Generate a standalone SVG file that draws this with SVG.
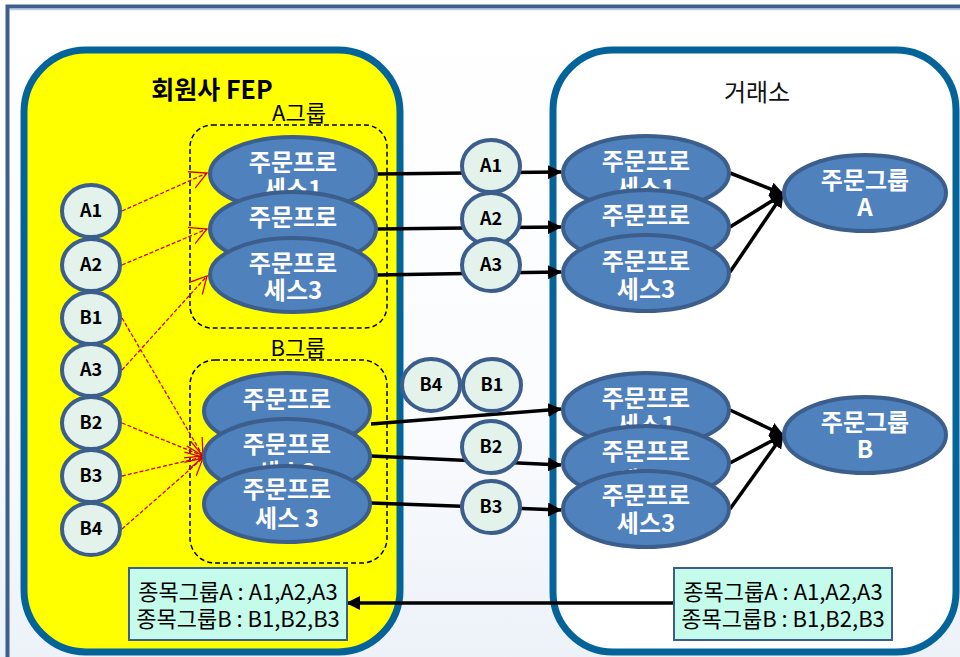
<svg xmlns="http://www.w3.org/2000/svg" width="960" height="657" viewBox="0 0 960 657">
<defs>
<linearGradient id="bg" x1="0" y1="0" x2="0" y2="1">
<stop offset="0" stop-color="#ffffff"/>
<stop offset="0.6" stop-color="#fbfcfe"/>
<stop offset="1" stop-color="#edf2f9"/>
</linearGradient>
<marker id="ah" markerUnits="userSpaceOnUse" viewBox="0 0 14 14" refX="13" refY="7" markerWidth="14" markerHeight="14" orient="auto">
<path d="M0,0 L14,7 L0,14 Z" fill="#000"/>
</marker>
<marker id="rh" markerUnits="userSpaceOnUse" viewBox="0 0 18 20" refX="17" refY="10" markerWidth="18" markerHeight="20" orient="auto">
<path d="M0,1 L17,10 L0,19" fill="none" stroke="#d40000" stroke-width="1.3"/>
</marker>
</defs>
<style>
text{font-family:"Noto Sans CJK KR","Noto Sans",sans-serif}
.pe{fill:#4f81bd;stroke:#3b5e8c;stroke-width:4}
.pt{fill:#ffffff;font-size:24px;font-weight:700;text-anchor:middle}
.ci{fill:#e4f2ec;stroke:#3b5e8c;stroke-width:4}
.ct{fill:#000;font-size:18px;font-weight:700;text-anchor:middle}
.grp{fill:none;stroke:#000;stroke-width:1.5;stroke-dasharray:5 3}
.red{fill:none;stroke:#d40000;stroke-width:1.3;stroke-dasharray:4 2;marker-end:url(#rh)}
.blk{fill:none;stroke:#000;stroke-width:3.5;marker-end:url(#ah)}
.box{fill:#c4fbeb;stroke:#3b5e8c;stroke-width:2}
.bt{fill:#000;font-size:22px;text-anchor:middle}
</style>
<rect x="0" y="0" width="960" height="657" fill="url(#bg)"/>
<rect x="7.5" y="6.5" width="960" height="660" fill="none" stroke="#3e5f8d" stroke-width="4"/>
<line x1="10" y1="9.5" x2="960" y2="9.5" stroke="#b8cce4" stroke-width="1.5"/>

<g id="fep">
<rect x="24" y="50" width="376" height="602" rx="62" fill="#ffff00" stroke="#046499" stroke-width="7"/>
<text x="212" y="99" font-size="25" font-weight="700" text-anchor="middle" fill="#000">회원사 FEP</text>
</g>
<g id="exchange">
<rect x="553" y="50" width="403" height="602" rx="60" fill="#ffffff" stroke="#046499" stroke-width="7"/>
<text x="757" y="101" font-size="24" text-anchor="middle" fill="#111">거래소</text>
</g>

<g id="groupA">
<rect class="grp" x="190" y="125" width="197" height="203" rx="22"/>
<text x="299" y="121" font-size="22" text-anchor="middle" fill="#000">A그룹</text>
</g>
<g id="groupB">
<rect class="grp" x="190" y="360" width="197" height="203" rx="25"/>
<text x="298" y="356" font-size="22" text-anchor="middle" fill="#000">B그룹</text>
</g>

<g id="connectors">
<line class="red" x1="122" y1="211" x2="207" y2="173"/>
<line class="red" x1="122" y1="265" x2="207" y2="229"/>
<line class="red" x1="122" y1="370" x2="207" y2="276"/>
<line class="red" x1="122" y1="318" x2="203" y2="456"/>
<line class="red" x1="122" y1="423" x2="203" y2="456"/>
<line class="red" x1="122" y1="476" x2="203" y2="457"/>
<line class="red" x1="122" y1="529" x2="203" y2="458"/>
<line class="blk" x1="377" y1="174" x2="561" y2="172"/>
<line class="blk" x1="377" y1="229" x2="561" y2="227"/>
<line class="blk" x1="377" y1="275" x2="561" y2="272"/>
<line class="blk" x1="371" y1="424" x2="561" y2="409"/>
<line class="blk" x1="371" y1="456" x2="561" y2="465"/>
<line class="blk" x1="371" y1="503" x2="561" y2="510"/>
<line class="blk" x1="730" y1="173" x2="783" y2="194"/>
<line class="blk" x1="730" y1="227" x2="783" y2="194"/>
<line class="blk" x1="730" y1="272" x2="783" y2="194"/>
<line class="blk" x1="730" y1="410" x2="783" y2="435"/>
<line class="blk" x1="730" y1="463" x2="783" y2="435"/>
<line class="blk" x1="730" y1="509" x2="783" y2="435"/>
<line class="blk" x1="673" y1="603" x2="347" y2="603"/>
</g>

<g id="fepA1"><ellipse class="pe" cx="293" cy="174" rx="83" ry="37"/><text class="pt" x="293" y="171">주문프로</text><text class="pt" x="293" y="198">세스1</text></g>
<g id="fepA2"><ellipse class="pe" cx="293" cy="229" rx="83" ry="37"/><text class="pt" x="293" y="226">주문프로</text></g>
<g id="fepA3"><ellipse class="pe" cx="293" cy="275" rx="83" ry="37"/><text class="pt" x="293" y="272">주문프로</text><text class="pt" x="293" y="299">세스3</text></g>

<g id="fepB1"><ellipse class="pe" cx="287" cy="411" rx="83" ry="38"/><text class="pt" x="287" y="408">주문프로</text></g>
<g id="fepB2"><ellipse class="pe" cx="287" cy="457" rx="83" ry="38"/><text class="pt" x="287" y="453">주문프로</text><text class="pt" x="287" y="481">세스2</text></g>
<g id="fepB3"><ellipse class="pe" cx="287" cy="504" rx="83" ry="38"/><text class="pt" x="287" y="498">주문프로</text><text class="pt" x="287" y="527">세스 3</text></g>

<g id="exA1"><ellipse class="pe" cx="646" cy="173" rx="83" ry="37"/><text class="pt" x="646" y="170">주문프로</text><text class="pt" x="646" y="197">세스1</text></g>
<g id="exA2"><ellipse class="pe" cx="646" cy="227" rx="83" ry="37"/><text class="pt" x="646" y="224">주문프로</text></g>
<g id="exA3"><ellipse class="pe" cx="646" cy="273" rx="83" ry="38"/><text class="pt" x="646" y="270">주문프로</text><text class="pt" x="646" y="298">세스3</text></g>

<g id="exB1"><ellipse class="pe" cx="646" cy="410" rx="83" ry="37"/><text class="pt" x="646" y="407">주문프로</text><text class="pt" x="646" y="434">세스1</text></g>
<g id="exB2"><ellipse class="pe" cx="646" cy="463" rx="83" ry="37"/><text class="pt" x="646" y="460">주문프로</text><text class="pt" x="646" y="489">세스2</text></g>
<g id="exB3"><ellipse class="pe" cx="646" cy="509" rx="83" ry="38"/><text class="pt" x="646" y="504">주문프로</text><text class="pt" x="646" y="532">세스3</text></g>

<g id="ordGroupA"><ellipse class="pe" cx="865" cy="193" rx="81" ry="38"/><text class="pt" x="865" y="189">주문그룹</text><text class="pt" x="865" y="216">A</text></g>
<g id="ordGroupB"><ellipse class="pe" cx="865" cy="435" rx="81" ry="38"/><text class="pt" x="865" y="431">주문그룹</text><text class="pt" x="865" y="458">B</text></g>

<g id="inA1"><ellipse class="ci" cx="91" cy="211" rx="29" ry="26"/><text class="ct" x="91" y="217">A1</text></g>
<g id="inA2"><ellipse class="ci" cx="91" cy="265" rx="29" ry="26"/><text class="ct" x="91" y="271">A2</text></g>
<g id="inB1"><ellipse class="ci" cx="91" cy="318" rx="29" ry="26"/><text class="ct" x="91" y="324">B1</text></g>
<g id="inA3"><ellipse class="ci" cx="91" cy="370" rx="29" ry="26"/><text class="ct" x="91" y="376">A3</text></g>
<g id="inB2"><ellipse class="ci" cx="91" cy="423" rx="29" ry="26"/><text class="ct" x="91" y="429">B2</text></g>
<g id="inB3"><ellipse class="ci" cx="91" cy="476" rx="29" ry="26"/><text class="ct" x="91" y="482">B3</text></g>
<g id="inB4"><ellipse class="ci" cx="91" cy="529" rx="29" ry="26"/><text class="ct" x="91" y="535">B4</text></g>

<g id="midA1"><ellipse class="ci" cx="491" cy="166" rx="29" ry="26"/><text class="ct" x="491" y="172">A1</text></g>
<g id="midA2"><ellipse class="ci" cx="491" cy="219" rx="29" ry="26"/><text class="ct" x="491" y="225">A2</text></g>
<g id="midA3"><ellipse class="ci" cx="491" cy="265" rx="29" ry="26"/><text class="ct" x="491" y="271">A3</text></g>
<g id="midB4"><ellipse class="ci" cx="431" cy="385" rx="29" ry="26"/><text class="ct" x="431" y="391">B4</text></g>
<g id="midB1"><ellipse class="ci" cx="492" cy="385" rx="29" ry="26"/><text class="ct" x="492" y="391">B1</text></g>
<g id="midB2"><ellipse class="ci" cx="491" cy="447" rx="29" ry="26"/><text class="ct" x="491" y="453">B2</text></g>
<g id="midB3"><ellipse class="ci" cx="491" cy="507" rx="29" ry="26"/><text class="ct" x="491" y="513">B3</text></g>

<g id="boxFep"><rect class="box" x="129" y="568" width="218" height="72"/><text class="bt" x="238" y="600">종목그룹A : A1,A2,A3</text><text class="bt" x="238" y="627">종목그룹B : B1,B2,B3</text></g>
<g id="boxEx"><rect class="box" x="674" y="568" width="218" height="72"/><text class="bt" x="783" y="600">종목그룹A : A1,A2,A3</text><text class="bt" x="783" y="627">종목그룹B : B1,B2,B3</text></g>
</svg>
